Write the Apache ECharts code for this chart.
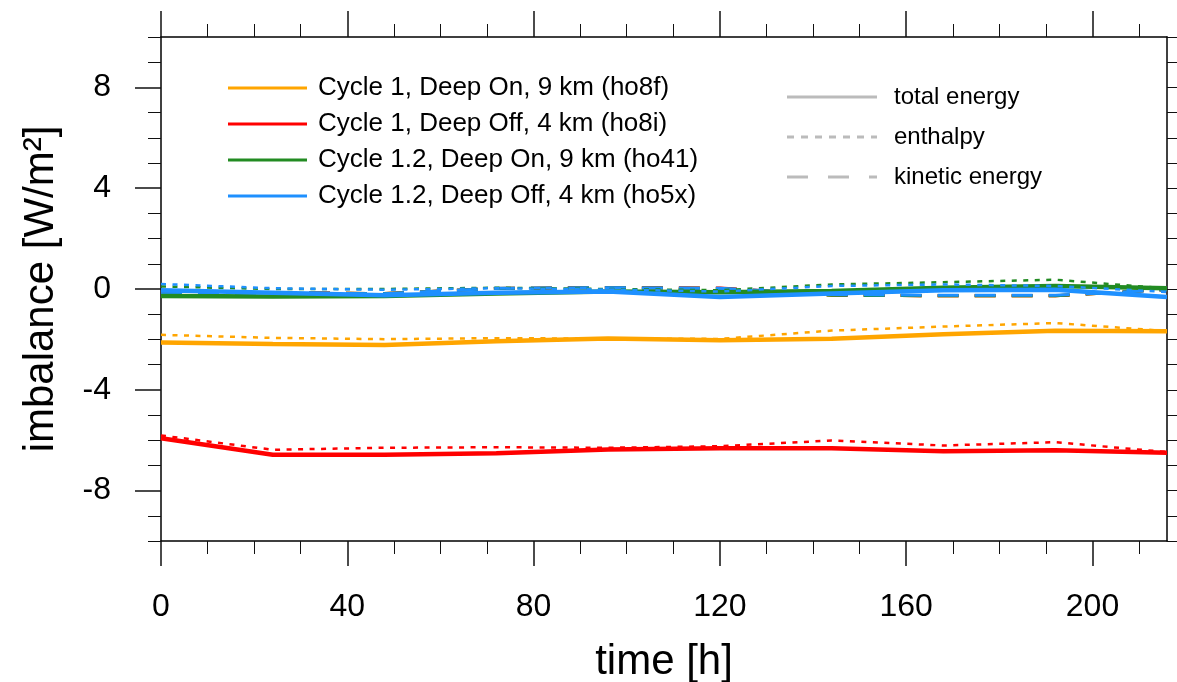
<!DOCTYPE html>
<html>
<head>
<meta charset="utf-8">
<script src="https://cdn.jsdelivr.net/npm/echarts@6/dist/echarts.min.js"></script>
<style>
html,body{margin:0;padding:0;background:#fff;}
#main{width:1177px;height:682px;}
</style>
</head>
<body>
<div id="main"></div>
<script>
// ---- data ----
var hours = [0, 24, 48, 72, 96, 120, 144, 168, 192, 216];

var ho8fTotal = [-2.12, -2.18, -2.22, -2.07, -1.96, -2.03, -1.97, -1.80, -1.66, -1.68];
var ho8fEnth  = [-1.82, -1.94, -1.99, -1.95, -1.97, -1.98, -1.65, -1.49, -1.35, -1.67];
var ho8fKin   = [-0.18, -0.14, -0.18, 0.02, 0.06, 0.03, -0.24, -0.27, -0.27, -0.02];

var ho8iTotal = [-5.92, -6.58, -6.58, -6.52, -6.37, -6.32, -6.32, -6.44, -6.40, -6.50];
var ho8iEnth  = [-5.81, -6.38, -6.30, -6.28, -6.30, -6.24, -6.01, -6.21, -6.08, -6.47];
var ho8iKin   = [-0.18, -0.14, -0.18, 0.02, 0.06, 0.04, -0.24, -0.27, -0.27, -0.02];

var ho41Total = [-0.28, -0.30, -0.28, -0.18, -0.10, -0.13, -0.08, 0.05, 0.12, 0.03];
var ho41Enth  = [0.10, 0.00, 0.00, 0.05, 0.00, -0.05, 0.18, 0.27, 0.37, 0.02];
var ho41Kin   = [-0.20, -0.15, -0.18, 0.02, 0.05, 0.02, -0.25, -0.27, -0.27, -0.02];

var ho5xTotal = [-0.05, -0.15, -0.25, -0.15, -0.10, -0.32, -0.18, -0.05, -0.03, -0.32];
var ho5xEnth  = [0.20, 0.03, -0.03, 0.03, -0.02, -0.10, 0.12, 0.18, 0.12, -0.12];
var ho5xKin   = [-0.19, -0.15, -0.19, 0.03, 0.05, 0.03, -0.22, -0.25, -0.25, -0.03];

var runNames = [
  'Cycle 1, Deep On, 9 km (ho8f)',
  'Cycle 1, Deep Off, 4 km (ho8i)',
  'Cycle 1.2, Deep On, 9 km (ho41)',
  'Cycle 1.2, Deep Off, 4 km (ho5x)'
];
var runColors = ['#FFA500', '#FF0000', '#228B22', '#1E90FF'];
var energyNames = ['total energy', 'enthalpy', 'kinetic energy'];

var xMajorTicks = [0, 40, 80, 120, 160, 200];
var xMinorTicks = [10, 20, 30, 50, 60, 70, 90, 100, 110, 130, 140, 150, 170, 180, 190, 210];
var yMajorTicks = [-8, -4, 0, 4, 8];
var yMinorTicks = [-10, -9, -7, -6, -5, -3, -2, -1, 1, 2, 3, 5, 6, 7, 9, 10];

// ---- build ----
function pairs(vals) { return hours.map(function (h, i) { return [h, vals[i]]; }); }

var runs = [
  [ho8fTotal, ho8fEnth, ho8fKin],
  [ho8iTotal, ho8iEnth, ho8iKin],
  [ho41Total, ho41Enth, ho41Kin],
  [ho5xTotal, ho5xEnth, ho5xKin]
];

var series = [];
runs.forEach(function (r, i) {
  series.push({
    name: runNames[i] + ' kinetic', type: 'line', data: pairs(r[2]),
    symbol: 'none', silent: true,
    lineStyle: { color: runColors[i], width: 3, type: [21, 16] }
  });
});
runs.forEach(function (r, i) {
  series.push({
    name: runNames[i] + ' enthalpy', type: 'line', data: pairs(r[1]),
    symbol: 'none', silent: true,
    lineStyle: { color: runColors[i], width: 2.5, type: [5, 6.5] }
  });
  series.push({
    name: runNames[i], type: 'line', data: pairs(r[0]),
    symbol: 'none', silent: true,
    itemStyle: { color: runColors[i] },
    lineStyle: { color: runColors[i], width: 4.5 }
  });
});

var font = 'Liberation Sans, Arial, Helvetica, sans-serif';

function xAx(pos, ticks, len, showLabel, showLine, extra) {
  var a = {
    type: 'value', position: pos, min: 0, max: 216,
    gridIndex: 0,
    axisLine: { show: showLine, onZero: false, lineStyle: { color: '#000', width: 1.5 } },
    axisTick: { show: true, length: len, customValues: ticks, lineStyle: { color: '#111', width: len > 20 ? 1.5 : 1 } },
    axisLabel: { show: showLabel, customValues: ticks, fontSize: 32, color: '#000', fontFamily: font, margin: 50 },
    splitLine: { show: false }
  };
  return Object.assign(a, extra || {});
}
function yAx(pos, ticks, len, showLabel, showLine, extra) {
  var a = {
    type: 'value', position: pos, min: -10, max: 10,
    gridIndex: 0,
    axisLine: { show: showLine, onZero: false, lineStyle: { color: '#000', width: 1.5 } },
    axisTick: { show: true, length: len, customValues: ticks, lineStyle: { color: '#111', width: len > 20 ? 1.5 : 1 } },
    axisLabel: { show: showLabel, customValues: ticks, fontSize: 32, color: '#000', fontFamily: font, margin: 50 },
    splitLine: { show: false }
  };
  return Object.assign(a, extra || {});
}

var legendGraphics = [];
var legendDash = [null, [7, 7], [21, 20]];
energyNames.forEach(function (nm, i) {
  var yy = [97, 137, 177][i];
  legendGraphics.push({
    type: 'line', shape: { x1: 787, y1: yy, x2: 877, y2: yy },
    style: { stroke: '#BBBBBB', lineWidth: 3, lineDash: legendDash[i] }
  });
  legendGraphics.push({
    type: 'text', x: 894, y: yy,
    style: { text: nm, fill: '#000', font: '24px ' + font, textVerticalAlign: 'middle' }
  });
});

var option = {
  backgroundColor: '#fff',
  animation: false,
  grid: { left: 161, top: 37, right: 10, bottom: 141, containLabel: false, outerBoundsMode: 'none' },
  legend: {
    data: runNames, orient: 'vertical', left: 223, top: 70,
    icon: 'rect', itemWidth: 79, itemHeight: 3, itemGap: 10,
    selectedMode: false,
    textStyle: { fontSize: 26, lineHeight: 26, color: '#000', fontFamily: font, padding: [0, 0, 0, 6] }
  },
  xAxis: [
    xAx('bottom', xMajorTicks, 25, true, true, {
      name: 'time [h]', nameLocation: 'middle', nameGap: 100,
      nameTextStyle: { fontSize: 42, color: '#000', fontFamily: font }
    }),
    xAx('bottom', xMinorTicks, 13, false, false),
    xAx('top', xMajorTicks, 26, false, true),
    xAx('top', xMinorTicks, 13, false, false)
  ],
  yAxis: [
    yAx('left', yMajorTicks, 26, true, true, {
      name: 'imbalance [W/m²]', nameLocation: 'middle', nameGap: 99,
      nameTextStyle: { fontSize: 42, color: '#000', fontFamily: font }
    }),
    yAx('left', yMinorTicks, 13, false, false),
    yAx('right', yMajorTicks, 13, false, true),
    yAx('right', yMinorTicks, 13, false, false)
  ],
  graphic: legendGraphics,
  series: series
};

var chart = echarts.init(document.getElementById('main'), null, { renderer: 'canvas' });
chart.setOption(option);
</script>
</body>
</html>
